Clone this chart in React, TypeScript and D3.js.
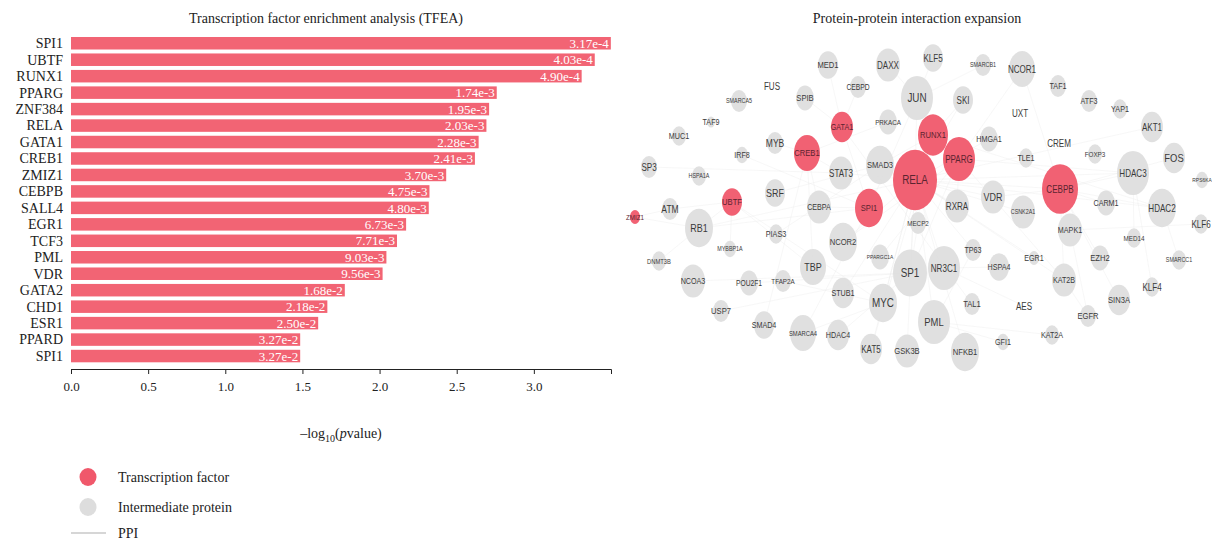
import { useEffect, useRef } from "react";
import * as d3 from "d3";

// TFEA bar chart
const tfNames = [
  "SPI1", "UBTF", "RUNX1", "PPARG", "ZNF384", "RELA", "GATA1", "CREB1", "ZMIZ1", "CEBPB",
  "SALL4", "EGR1", "TCF3", "PML", "VDR", "GATA2", "CHD1", "ESR1", "PPARD", "SPI1",
];
const tfPValues = [
  3.17e-4, 4.03e-4, 4.9e-4, 1.74e-3, 1.95e-3, 2.03e-3, 2.28e-3, 2.41e-3, 3.7e-3, 4.75e-3,
  4.8e-3, 6.73e-3, 7.71e-3, 9.03e-3, 9.56e-3, 1.68e-2, 2.18e-2, 2.5e-2, 3.27e-2, 3.27e-2,
];
const pLabels = [
  "3.17e-4", "4.03e-4", "4.90e-4", "1.74e-3", "1.95e-3", "2.03e-3", "2.28e-3", "2.41e-3", "3.70e-3", "4.75e-3",
  "4.80e-3", "6.73e-3", "7.71e-3", "9.03e-3", "9.56e-3", "1.68e-2", "2.18e-2", "2.50e-2", "3.27e-2", "3.27e-2",
];
const xTicks = [0, 0.5, 1, 1.5, 2, 2.5, 3];

// PPI network: [name, x, y, radius, label size] in layout units
type NodeRow = [string, number, number, number, number];
const tfNodes: NodeRow[] = [
  ["RELA", 295, 150, 22, 11],
  ["CEBPB", 440, 159, 18, 9],
  ["PPARG", 339, 129, 16, 9],
  ["RUNX1", 313, 105, 15, 8.5],
  ["CREB1", 187, 123, 13, 8.5],
  ["SPI1", 249, 178, 14, 8.5],
  ["GATA1", 222, 97, 11, 8],
  ["UBTF", 112, 172, 10, 8.5],
  ["ZMIZ1", 15, 187, 5, 7],
];
const intermediateNodes: NodeRow[] = [
  ["JUN", 297, 68, 16, 11], ["KLF5", 313, 28, 10, 9], ["SMARCB1", 363, 35, 8, 6],
  ["NCOR1", 402, 39, 13, 9], ["DAXX", 268, 35, 12, 9], ["MED1", 208, 35, 10, 8.5],
  ["CEBPD", 238, 57, 8, 7.5], ["FUS", 152, 56, 0, 9], ["SPIB", 185, 68, 9, 8.5],
  ["SMARCA5", 119, 71, 8, 6], ["TAF9", 91, 92, 4, 8], ["MUC1", 59, 106, 7, 8],
  ["MYB", 155, 113, 8, 9.5], ["IRF8", 122, 125, 6, 8], ["SP3", 29, 137, 8, 9],
  ["HSPA1A", 79, 146, 7, 6], ["PRKACA", 268, 92, 9, 7], ["SMAD3", 260, 135, 14, 8.5],
  ["STAT3", 221, 143, 12, 9], ["SRF", 155, 163, 10, 10], ["ATM", 50, 179, 8, 9.5],
  ["CEBPA", 199, 177, 12, 8], ["SKI", 343, 70, 10, 9], ["TAF1", 438, 56, 8, 8],
  ["ATF3", 469, 71, 8, 8], ["YAP1", 500, 79, 7, 8], ["UXT", 400, 83, 0, 9],
  ["AKT1", 532, 97, 11, 9], ["HMGA1", 369, 109, 9, 8], ["CREM", 439, 113, 0, 9],
  ["TLE1", 406, 128, 7, 8], ["FOXP3", 475, 124, 7, 7], ["FOS", 554, 128, 11, 10.5],
  ["HDAC3", 513, 143, 16, 9], ["RPS6KA", 582, 150, 6, 5.5], ["VDR", 373, 167, 12, 10],
  ["RXRA", 337, 176, 12, 9], ["CSNK2A1", 403, 182, 12, 6], ["CARM1", 486, 173, 9, 8],
  ["HDAC2", 542, 178, 14, 9], ["KLF6", 581, 194, 7, 9], ["MECP2", 298, 193, 8, 7],
  ["MAPK1", 450, 200, 12, 8], ["MED14", 514, 208, 7, 7], ["TP63", 353, 220, 8, 8],
  ["EGR1", 414, 228, 5, 8], ["EZH2", 480, 228, 9, 8.5], ["SMARCC1", 559, 230, 7, 6],
  ["RB1", 79, 198, 14, 10], ["PIAS3", 156, 204, 7, 8], ["MYBBP1A", 110, 219, 6, 6],
  ["NCOR2", 223, 212, 14, 8.5], ["DNMT3B", 39, 231, 7, 6.5], ["PPARGC1A", 260, 227, 9, 5.5],
  ["TBP", 193, 237, 13, 10], ["SP1", 290, 243, 17, 11], ["NR3C1", 324, 238, 16, 9],
  ["HSPA4", 379, 237, 10, 8], ["KAT2B", 444, 250, 12, 8], ["KLF4", 532, 257, 7, 9],
  ["NCOA3", 73, 251, 12, 8], ["POU2F1", 129, 253, 9, 7.5], ["TFAP2A", 163, 251, 8, 7],
  ["STUB1", 223, 263, 11, 8], ["MYC", 263, 273, 14, 11], ["SIN3A", 499, 270, 11, 8.5],
  ["TAL1", 352, 274, 8, 8.5], ["AES", 404, 276, 0, 9], ["USP7", 101, 281, 8, 8.5],
  ["PML", 314, 292, 16, 10.5], ["EGFR", 468, 286, 8, 8.5], ["SMAD4", 144, 295, 10, 8],
  ["SMARCA4", 183, 303, 13, 6.5], ["HDAC4", 218, 305, 11, 8], ["KAT2A", 432, 305, 7, 8],
  ["GFI1", 383, 312, 6, 8], ["KAT5", 251, 319, 11, 9], ["GSK3B", 287, 321, 12, 8.5],
  ["NFKB1", 345, 322, 14, 8.5],
];
const ppiEdges: [string, string][] = [
  ["RELA", "JUN"], ["RELA", "SMAD3"], ["RELA", "STAT3"], ["RELA", "SP1"], ["RELA", "NCOR2"],
  ["RELA", "MYC"], ["RELA", "PML"], ["RELA", "NR3C1"], ["RELA", "RXRA"], ["RELA", "VDR"],
  ["RELA", "HDAC3"], ["RELA", "CEBPB"], ["RELA", "KAT2B"], ["RELA", "NFKB1"], ["RELA", "SKI"],
  ["RELA", "HMGA1"], ["RELA", "CSNK2A1"], ["RELA", "TP63"], ["RELA", "HDAC2"], ["RELA", "AKT1"],
  ["RELA", "EGR1"], ["RELA", "GSK3B"], ["RELA", "KAT5"], ["RELA", "STUB1"], ["RELA", "RB1"],
  ["CEBPB", "HDAC3"], ["CEBPB", "CARM1"], ["CEBPB", "MAPK1"], ["CEBPB", "HDAC2"], ["CEBPB", "VDR"],
  ["CEBPB", "FOS"], ["CEBPB", "EZH2"], ["CEBPB", "SIN3A"], ["CEBPB", "KAT2B"], ["CEBPB", "NCOR1"],
  ["PPARG", "NCOR1"], ["PPARG", "RXRA"], ["PPARG", "HDAC3"], ["PPARG", "NCOR2"], ["PPARG", "PPARGC1A"],
  ["PPARG", "KAT2B"], ["PPARG", "SP1"], ["RUNX1", "JUN"], ["RUNX1", "SMAD3"], ["RUNX1", "KAT5"],
  ["RUNX1", "HDAC2"], ["RUNX1", "SKI"], ["CREB1", "MYB"], ["CREB1", "STAT3"], ["CREB1", "PRKACA"],
  ["CREB1", "CEBPA"], ["CREB1", "TBP"], ["CREB1", "SMAD4"], ["SPI1", "CEBPA"], ["SPI1", "JUN"],
  ["SPI1", "RB1"], ["SPI1", "GATA1"], ["SPI1", "IRF8"], ["SPI1", "SMARCA4"], ["GATA1", "MED1"],
  ["GATA1", "CEBPD"], ["GATA1", "SPIB"], ["GATA1", "TAL1"], ["UBTF", "RB1"], ["UBTF", "TBP"],
  ["UBTF", "MYC"], ["UBTF", "MYBBP1A"], ["UBTF", "ATM"], ["ZMIZ1", "ATM"], ["ZMIZ1", "RB1"],
  ["SP1", "MECP2"], ["SP1", "HDAC4"], ["SP1", "NCOA3"], ["SP1", "POU2F1"], ["SP1", "USP7"],
  ["MYC", "SMARCA4"], ["MYC", "TFAP2A"], ["PML", "TP63"], ["PML", "GFI1"], ["PML", "KAT2A"],
  ["NR3C1", "HSPA4"], ["NR3C1", "AES"], ["JUN", "DAXX"], ["JUN", "KLF5"], ["JUN", "SMARCB1"],
  ["SMAD3", "SRF"], ["SMAD3", "PIAS3"], ["HDAC3", "KLF4"], ["HDAC3", "MED14"], ["HDAC2", "SMARCC1"],
  ["MAPK1", "EGFR"], ["MAPK1", "KLF6"], ["KAT2B", "EGFR"], ["STAT3", "SP3"], ["RB1", "DNMT3B"],
];

const BAR_COLOR = "#F26474";
const TF_COLOR = "#F0586B";
const GREY_NODE = "#DDDDDD";
const SERIF = "'Liberation Serif', 'Times New Roman', serif";
const SANS = "'Liberation Sans', Arial, sans-serif";

export default function App() {
  const axisRef = useRef<SVGGElement>(null);

  const x = d3.scaleLinear().domain([0, 3.5]).range([71, 611]);
  const y = d3
    .scaleBand<number>()
    .domain(d3.range(tfNames.length))
    .range([37, 362.3])
    .paddingInner(0.24);

  const netX = d3.scaleLinear().domain([0, 592]).range([620, 1212]);
  const netY = d3.scaleLinear().domain([0, 400]).range([30, 430]);
  const ryRatio = 1.38;

  const allNodes = [
    ...intermediateNodes.map((n) => ({ n, tf: false })),
    ...tfNodes.map((n) => ({ n, tf: true })),
  ];
  const pos = new Map(allNodes.map(({ n }) => [n[0], [netX(n[1]), netY(n[2])]]));

  useEffect(() => {
    if (!axisRef.current) return;
    const g = d3.select(axisRef.current);
    g.selectAll("*").remove();
    g.call(
      d3
        .axisBottom(x)
        .tickValues(xTicks)
        .tickFormat(d3.format(".1f"))
        .tickSize(5)
        .tickSizeOuter(5)
    );
    g.selectAll("path, line").attr("stroke", "#222");
    g.selectAll("text")
      .attr("font-family", SERIF)
      .attr("font-size", 13)
      .attr("fill", "#222")
      .attr("dy", "1.05em");
  }, []);

  return (
    <div style={{ position: "absolute", left: 0, top: 0 }}>
      <svg width={1212} height={540} style={{ display: "block", background: "#fff" }}>
        {/* left panel */}
        <text x={326} y={23} textAnchor="middle" fontFamily={SERIF} fontSize={14} fill="#222">
          Transcription factor enrichment analysis (TFEA)
        </text>
        {tfPValues.map((p, i) => {
          const v = -Math.log10(p);
          const yPos = y(i) || 0;
          const h = y.bandwidth();
          return (
            <g key={i}>
              <text
                x={63}
                y={yPos + h / 2}
                dy="0.35em"
                textAnchor="end"
                fontFamily={SERIF}
                fontSize={14}
                fill="#222"
              >
                {tfNames[i]}
              </text>
              <rect x={x(0)} y={yPos} width={x(v) - x(0)} height={h} fill={BAR_COLOR} />
              <text
                x={x(v) - 2}
                y={yPos + h / 2}
                dy="0.36em"
                textAnchor="end"
                fontFamily={SERIF}
                fontSize={13}
                fill="#fff"
              >
                {pLabels[i]}
              </text>
            </g>
          );
        })}
        <g ref={axisRef} transform="translate(0,369)" />
        <text x={341} y={438} textAnchor="middle" fontFamily={SERIF} fontSize={14} fill="#222">
          –log
          <tspan fontSize={10} dy={4}>10</tspan>
          <tspan dy={-4}>(</tspan>
          <tspan fontStyle="italic">p</tspan>value)
        </text>

        {/* legend */}
        <ellipse cx={88} cy={477} rx={8.5} ry={9} fill={TF_COLOR} />
        <text x={118} y={482} fontFamily={SERIF} fontSize={14} fill="#222">Transcription factor</text>
        <ellipse cx={88} cy={507} rx={8.5} ry={9} fill={GREY_NODE} />
        <text x={118} y={512} fontFamily={SERIF} fontSize={14} fill="#222">Intermediate protein</text>
        <line x1={71} x2={106} y1={533} y2={533} stroke="#d6d6d6" strokeWidth={2} />
        <text x={118} y={538} fontFamily={SERIF} fontSize={14} fill="#222">PPI</text>

        {/* right panel */}
        <text x={917} y={23} textAnchor="middle" fontFamily={SERIF} fontSize={14} fill="#222">
          Protein-protein interaction expansion
        </text>
        <g>
          {ppiEdges.map(([a, b], i) => {
            const pa = pos.get(a);
            const pb = pos.get(b);
            if (!pa || !pb) return null;
            return (
              <line
                key={i}
                x1={pa[0]}
                y1={pa[1]}
                x2={pb[0]}
                y2={pb[1]}
                stroke="#ebebeb"
                strokeWidth={0.5}
                opacity={0.7}
              />
            );
          })}
        </g>
        <g>
          {allNodes.map(({ n, tf }) => {
            const [name, nx, ny, r, fs] = n;
            return (
              <g key={name + (tf ? "-tf" : "")}>
                {r > 0 && (
                  <ellipse
                    cx={netX(nx)}
                    cy={netY(ny)}
                    rx={r}
                    ry={r * ryRatio}
                    fill={tf ? TF_COLOR : GREY_NODE}
                    opacity={tf ? 0.95 : 0.9}
                  />
                )}
                <text
                  transform={`translate(${netX(nx)},${netY(ny)}) scale(0.8,1)`}
                  dy="0.36em"
                  textAnchor="middle"
                  fontFamily={SANS}
                  fontSize={fs * 1.12}
                  fill={tf ? "#5b2430" : "#3a3a3a"}
                >
                  {name}
                </text>
              </g>
            );
          })}
        </g>
      </svg>
    </div>
  );
}
